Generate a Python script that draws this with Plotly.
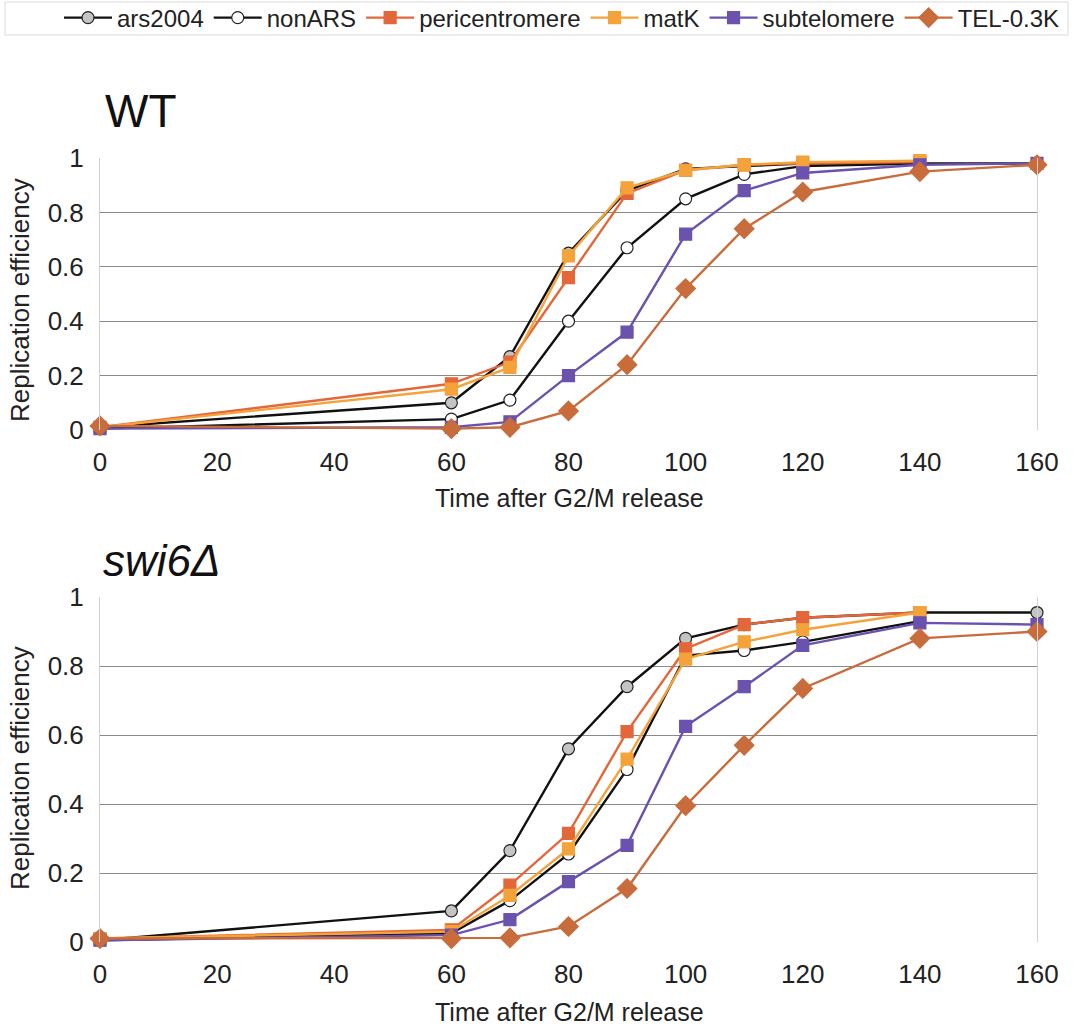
import plotly.graph_objects as go

# Sampling times (min after G2/M release)
times = [0, 60, 70, 80, 90, 100, 110, 120, 140, 160]
tick_x = [0, 20, 40, 60, 80, 100, 120, 140, 160]
tick_y = [0, 0.2, 0.4, 0.6, 0.8, 1]
tick_y_text = ["0", "0.2", "0.4", "0.6", "0.8", "1"]

series_names = ["ars2004", "nonARS", "pericentromere", "matK", "subtelomere", "TEL-0.3K"]

# WT replication efficiency
wt_ars2004 = [0.01, 0.10, 0.27, 0.65, 0.88, 0.96, 0.97, 0.98, 0.98, 0.98]
wt_nonars = [0.005, 0.04, 0.11, 0.40, 0.67, 0.85, 0.94, 0.97, 0.98]
wt_pericen = [0.01, 0.17, 0.25, 0.56, 0.87, 0.955, 0.975, 0.98, 0.985]
wt_matk = [0.01, 0.15, 0.23, 0.64, 0.89, 0.955, 0.975, 0.985, 0.99]
wt_subtel = [0.005, 0.01, 0.03, 0.20, 0.36, 0.72, 0.88, 0.945, 0.975, 0.98]
wt_tel = [0.015, 0.005, 0.01, 0.07, 0.24, 0.52, 0.74, 0.875, 0.95, 0.975]

# swi6 deletion replication efficiency
sw_ars2004 = [0.005, 0.09, 0.265, 0.56, 0.74, 0.88, 0.92, 0.94, 0.955, 0.955]
sw_nonars = [0.005, 0.025, 0.12, 0.255, 0.50, 0.83, 0.845, 0.87, 0.93]
sw_pericen = [0.01, 0.035, 0.165, 0.315, 0.61, 0.85, 0.92, 0.94, 0.955]
sw_matk = [0.01, 0.03, 0.135, 0.27, 0.53, 0.82, 0.87, 0.905, 0.955]
sw_subtel = [0.005, 0.02, 0.065, 0.175, 0.28, 0.625, 0.74, 0.86, 0.925, 0.92]
sw_tel = [0.01, 0.01, 0.012, 0.045, 0.155, 0.395, 0.57, 0.735, 0.88, 0.90]

styles = {
    "ars2004": dict(line="#111111", symbol="circle", fill="#c4c4c4", edge="#222222", size=12),
    "nonARS": dict(line="#111111", symbol="circle", fill="#ffffff", edge="#222222", size=12),
    "pericentromere": dict(line="#e4673a", symbol="square", fill="#e4673a", edge="#e4673a", size=12),
    "matK": dict(line="#f4a23a", symbol="square", fill="#f4a23a", edge="#f4a23a", size=12),
    "subtelomere": dict(line="#6a52ae", symbol="square", fill="#6a52ae", edge="#6a52ae", size=12),
    "TEL-0.3K": dict(line="#c96c3c", symbol="diamond", fill="#c96c3c", edge="#c96c3c", size=15),
}

W, H = 1073, 1028
FONT = "Liberation Sans, Arial, Helvetica, sans-serif"


def px_x(p):
    return p / W


def px_y(p):
    return 1 - p / H


fig = go.Figure()

panels = [
    ("x", "y", [wt_ars2004, wt_nonars, wt_pericen, wt_matk, wt_subtel, wt_tel], True),
    ("x2", "y2", [sw_ars2004, sw_nonars, sw_pericen, sw_matk, sw_subtel, sw_tel], False),
]

for xa, ya, values, show in panels:
    for name, vals in zip(series_names, values):
        st = styles[name]
        fig.add_trace(go.Scatter(
            x=times[:len(vals)], y=vals, name=name, mode="lines+markers",
            xaxis=xa, yaxis=ya, showlegend=show, cliponaxis=False,
            line=dict(color=st["line"], width=2.4),
            marker=dict(symbol=st["symbol"], size=st["size"], color=st["fill"],
                        line=dict(color=st["edge"], width=1.2)),
        ))

axis_common_x = dict(
    range=[0, 160], tickvals=tick_x, showgrid=False, zeroline=False,
    showline=False, ticks="", ticklabelstandoff=14, automargin=False,
    tickfont=dict(family=FONT, size=26, color="#222"),
)
axis_common_y = dict(
    range=[0, 1], tickvals=tick_y, ticktext=tick_y_text, showgrid=True,
    gridcolor="#8a8a8a", gridwidth=1.3, zeroline=False,
    showline=True, linecolor="#d2d2d2", linewidth=1, mirror=True,
    ticks="", ticklabelstandoff=10, automargin=False,
    tickfont=dict(family=FONT, size=26, color="#222"),
)

fig.update_layout(
    width=W, height=H,
    margin=dict(l=0, r=0, t=0, b=0, autoexpand=False),
    paper_bgcolor="white", plot_bgcolor="white",
    showlegend=True,
    xaxis=dict(domain=[px_x(100), px_x(1037)], anchor="y", **axis_common_x),
    yaxis=dict(domain=[px_y(430), px_y(158)], anchor="x", **axis_common_y),
    xaxis2=dict(domain=[px_x(100), px_x(1037)], anchor="y2", **axis_common_x),
    yaxis2=dict(domain=[px_y(942), px_y(597)], anchor="x2", **axis_common_y),
    legend=dict(
        orientation="h", x=px_x(562), xanchor="center", y=px_y(18), yanchor="middle",
        font=dict(family=FONT, size=24, color="#222"),
        bgcolor="rgba(0,0,0,0)", itemwidth=48, tracegroupgap=0,
    ),
    shapes=[dict(
        type="rect", xref="paper", yref="paper",
        x0=px_x(5), x1=px_x(1068), y0=px_y(35), y1=px_y(2),
        line=dict(color="#dadada", width=1), fillcolor="rgba(0,0,0,0)",
    )],
    annotations=[
        dict(text="WT", x=px_x(103), y=px_y(111), xref="paper", yref="paper",
             xanchor="left", yanchor="middle", showarrow=False,
             font=dict(family=FONT, size=46, color="#111")),
        dict(text="<i>swi6Δ</i>", x=px_x(101), y=px_y(560), xref="paper", yref="paper",
             xanchor="left", yanchor="middle", showarrow=False,
             font=dict(family=FONT, size=44, color="#111")),
        dict(text="Replication efficiency", x=px_x(20), y=px_y(300), xref="paper", yref="paper",
             xanchor="center", yanchor="middle", textangle=-90, showarrow=False,
             font=dict(family=FONT, size=26, color="#222")),
        dict(text="Replication efficiency", x=px_x(20), y=px_y(768), xref="paper", yref="paper",
             xanchor="center", yanchor="middle", textangle=-90, showarrow=False,
             font=dict(family=FONT, size=26, color="#222")),
        dict(text="Time after G2/M release", x=px_x(569), y=px_y(498), xref="paper", yref="paper",
             xanchor="center", yanchor="middle", showarrow=False,
             font=dict(family=FONT, size=25, color="#222")),
        dict(text="Time after G2/M release", x=px_x(569), y=px_y(1012), xref="paper", yref="paper",
             xanchor="center", yanchor="middle", showarrow=False,
             font=dict(family=FONT, size=25, color="#222")),
    ],
)

fig.write_html("out.html")
